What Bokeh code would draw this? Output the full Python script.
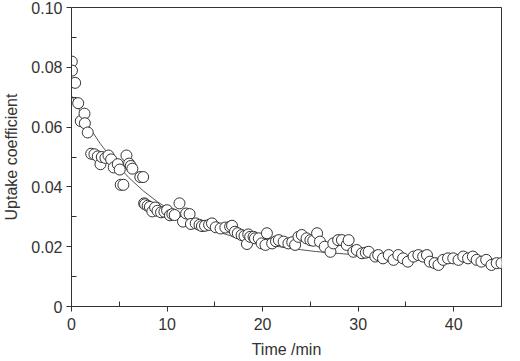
from bokeh.plotting import figure
from bokeh.models import Range1d, FixedTicker, CustomJSTickFormatter, ColumnDataSource
from bokeh.embed import file_html
from bokeh.resources import INLINE

# Measured uptake coefficient vs. time
time_min = [0.03, 0.05, 0.38, 0.7, 0.97, 1.36, 1.4, 1.7, 2.06, 2.4, 2.75, 3.03, 3.17, 3.55,
            3.87, 4.15, 4.42, 4.84, 5.05, 5.15, 5.43, 5.75, 6.03, 6.2, 6.37, 7.2, 7.5, 7.6,
            7.7, 7.97, 8.2, 8.46, 8.75, 9.0, 9.37, 9.72, 10.0, 10.3, 10.55, 10.8, 11.3, 11.67,
            12.0, 12.36, 12.5, 13.0, 13.4, 13.65, 13.97, 14.4, 14.7, 15.1, 15.6, 16.1, 16.6,
            16.8, 17.1, 17.4, 17.8, 18.1, 18.36, 18.5, 18.7, 19.05, 19.2, 19.6, 19.9, 20.3,
            20.45, 21.0, 21.4, 21.7, 22.2, 22.7, 23.1, 23.4, 23.75, 24.1, 24.6, 25.0, 25.3,
            25.7, 26.0, 26.5, 27.1, 27.4, 27.9, 28.3, 28.8, 29.0, 29.5, 29.85, 30.4, 30.8,
            31.1, 31.8, 32.1, 32.6, 33.2, 33.7, 34.2, 34.7, 35.2, 35.8, 36.3, 36.8, 37.2,
            37.5, 38.0, 38.4, 38.9, 39.4, 39.95, 40.5, 41.0, 41.5, 42.0, 42.4, 42.9, 43.4,
            43.95, 44.5, 45.0]
uptake = [0.0819, 0.0789, 0.0748, 0.068, 0.062, 0.0645, 0.0613, 0.0582, 0.0511, 0.0509, 0.0502,
          0.0476, 0.050, 0.0497, 0.0505, 0.0492, 0.0465, 0.0476, 0.0458, 0.0407, 0.0407, 0.0505,
          0.0478, 0.0470, 0.0461, 0.0433, 0.0433, 0.0345, 0.0342, 0.0337, 0.0333, 0.0318, 0.0331,
          0.0320, 0.0315, 0.0317, 0.0322, 0.0305, 0.0309, 0.0306, 0.0345, 0.0284, 0.0311, 0.0309,
          0.0276, 0.0278, 0.0273, 0.0269, 0.0270, 0.0273, 0.0278, 0.0265, 0.0261, 0.0264, 0.0267,
          0.0270, 0.0250, 0.0245, 0.0239, 0.0236, 0.0209, 0.0241, 0.0233, 0.0233, 0.0228, 0.0228,
          0.0211, 0.0206, 0.0245, 0.0211, 0.0218, 0.0222, 0.0217, 0.0211, 0.0215, 0.0206, 0.0233,
          0.0239, 0.0228, 0.0222, 0.0220, 0.0245, 0.0217, 0.0200, 0.0183, 0.0211, 0.0222, 0.0222,
          0.0206, 0.0222, 0.0183, 0.0189, 0.0178, 0.0180, 0.0183, 0.0167, 0.0172, 0.0161, 0.0172,
          0.0156, 0.0172, 0.0161, 0.0150, 0.0167, 0.0172, 0.0167, 0.0172, 0.0150, 0.0145, 0.0139,
          0.0156, 0.0161, 0.0161, 0.0156, 0.0167, 0.0161, 0.0167, 0.0156, 0.0150, 0.0156, 0.0139,
          0.0145, 0.0145]

# Exponential-decay fit curve, sampled every 1.5 min
fit_time = [0, 1.5, 3, 4.5, 6, 7.5, 9, 10.5, 12, 13.5, 15, 16.5, 18, 19.5, 21, 22.5, 24, 25.5,
            27, 28.5, 30, 31.5, 33, 34.5, 36, 37.5, 39, 40.5, 42, 43.5, 45]
fit_uptake = [0.0705, 0.0618, 0.0545, 0.0483, 0.0431, 0.0387, 0.0350, 0.0320, 0.0293, 0.0272,
              0.0253, 0.0238, 0.0224, 0.0213, 0.0204, 0.0196, 0.0190, 0.0184, 0.0180, 0.0176,
              0.0172, 0.0170, 0.0167, 0.0165, 0.0164, 0.0162, 0.0161, 0.0160, 0.0159, 0.0159,
              0.0158]

x_ticks = [0, 10, 20, 30, 40]
x_minor = [5, 15, 25, 35, 45]
y_ticks = [0, 0.02, 0.04, 0.06, 0.08, 0.10]
y_minor = [0.01, 0.03, 0.05, 0.07, 0.09]

FONT = "Liberation Sans"
INK = "#333333"

p = figure(width=520, height=361, output_backend="svg", toolbar_location=None,
           x_range=Range1d(0, 45), y_range=Range1d(0, 0.10),
           min_border_left=71, min_border_right=19, min_border_top=7, min_border_bottom=55)
p.xgrid.visible = False
p.ygrid.visible = False
p.outline_line_color = INK
p.outline_line_width = 1
p.background_fill_color = "white"
p.border_fill_color = "white"

p.line(fit_time, fit_uptake, line_color="#555555", line_width=1)
src = ColumnDataSource(dict(t=time_min, u=uptake))
p.scatter("t", "u", source=src, marker="circle", size=11, fill_color="white",
          line_color=INK, line_width=1)

for ax in (p.xaxis[0], p.yaxis[0]):
    ax.axis_line_color = INK
    ax.major_tick_line_color = INK
    ax.minor_tick_line_color = INK
    ax.major_tick_out = 5
    ax.major_tick_in = 0
    ax.minor_tick_out = 0
    ax.minor_tick_in = 5
    ax.major_label_text_font = FONT
    ax.major_label_text_font_size = "16px"
    ax.major_label_text_color = INK
    ax.axis_label_text_font = FONT
    ax.axis_label_text_font_size = "16px"
    ax.axis_label_text_font_style = "normal"
    ax.axis_label_text_color = INK

p.xaxis.ticker = FixedTicker(ticks=x_ticks, minor_ticks=x_minor)
p.yaxis.ticker = FixedTicker(ticks=y_ticks, minor_ticks=y_minor)
p.yaxis.formatter = CustomJSTickFormatter(code="return tick == 0 ? '0' : tick.toFixed(2);")
p.xaxis.major_label_standoff = 6
p.yaxis.major_label_standoff = 4
p.xaxis.axis_label = "Time /min"
p.yaxis.axis_label = "Uptake coefficient"
p.xaxis.axis_label_standoff = 8
p.yaxis.axis_label_standoff = 8

open("out.html", "w").write(file_html(p, INLINE))
